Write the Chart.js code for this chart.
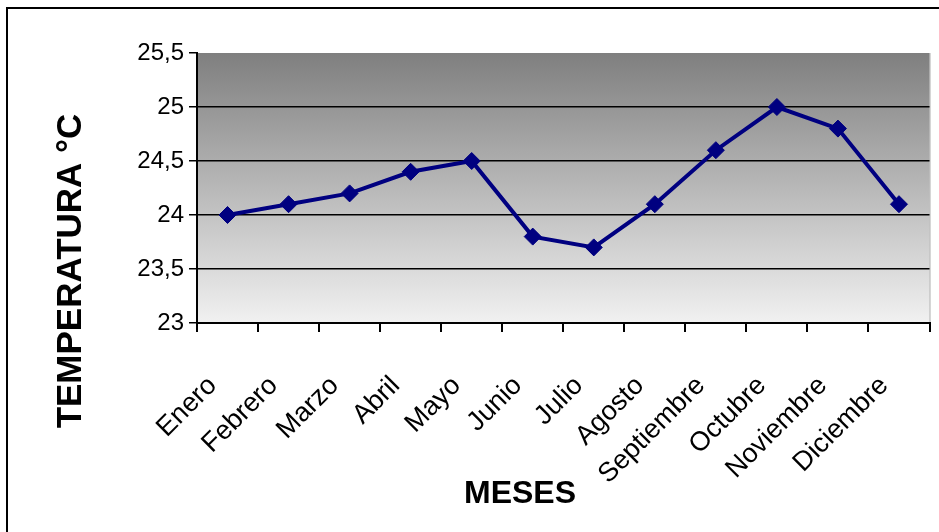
<!DOCTYPE html>
<html>
<head>
<meta charset="utf-8">
<script src="https://cdn.jsdelivr.net/npm/chart.js@4"></script>
<style>
  html, body { margin: 0; padding: 0; background: #fff; }
  #wrap { width: 939px; height: 532px; position: relative; }
</style>
</head>
<body>
<div id="wrap"><canvas id="c" width="939" height="532"></canvas></div>
<script>
const categories = ['Enero', 'Febrero', 'Marzo', 'Abril', 'Mayo', 'Junio', 'Julio', 'Agosto', 'Septiembre', 'Octubre', 'Noviembre', 'Diciembre'];
const temperatures = [24.0, 24.1, 24.2, 24.4, 24.5, 23.8, 23.7, 24.1, 24.6, 25.0, 24.8, 24.1];
const yTickValues = [23, 23.5, 24, 24.5, 25, 25.5];
const yAxisTitle = 'TEMPERATURA °C';
const xAxisTitle = 'MESES';

const FONT = '"Liberation Sans", Arial, sans-serif';

const decorPlugin = {
  id: 'decor',
  beforeDraw(chart) {
    const { ctx, chartArea: a } = chart;
    ctx.save();
    const g = ctx.createLinearGradient(0, a.top, 0, a.bottom);
    g.addColorStop(0, '#7f7f7f');
    g.addColorStop(1, '#f1f1f1');
    ctx.fillStyle = g;
    ctx.fillRect(a.left, a.top, a.right - a.left, a.bottom - a.top);
    ctx.fillStyle = 'rgba(120,120,120,0.6)';
    ctx.fillRect(a.right, a.top, 1, a.bottom - a.top);
    ctx.restore();
  },
  afterDraw(chart) {
    const { ctx } = chart;
    ctx.save();
    ctx.strokeStyle = '#000';
    ctx.lineWidth = 2;
    ctx.strokeRect(7, 8, 2000, 2000);
    ctx.fillStyle = '#000';
    ctx.textAlign = 'center';
    ctx.textBaseline = 'middle';
    ctx.font = 'bold 32px ' + FONT;
    ctx.fillText(xAxisTitle, 520, 494);
    ctx.translate(71, 271);
    ctx.rotate(-Math.PI / 2);
    ctx.font = 'bold 35px ' + FONT;
    ctx.fillText(yAxisTitle, 0, 0);
    ctx.restore();
  }
};

new Chart(document.getElementById('c'), {
  type: 'line',
  data: {
    labels: categories,
    datasets: [{
      data: temperatures,
      borderColor: '#000080',
      backgroundColor: '#000080',
      borderWidth: 4,
      pointStyle: 'rectRot',
      pointRadius: 8.5,
      pointHoverRadius: 8.5,
      pointBorderWidth: 1,
      tension: 0,
      fill: false
    }]
  },
  options: {
    responsive: false,
    animation: false,
    events: [],
    layout: { padding: { left: 0, top: 53, right: 9, bottom: 0 } },
    plugins: { legend: { display: false }, tooltip: { enabled: false } },
    scales: {
      x: {
        offset: true,
        grid: {
          offset: true,
          drawOnChartArea: false,
          color: '#000',
          tickColor: '#000',
          tickLength: 9,
          lineWidth: 2
        },
        border: { color: '#000', width: 2 },
        ticks: {
          color: '#000',
          font: { family: FONT, size: 27 },
          minRotation: 45,
          maxRotation: 45,
          autoSkip: false,
          padding: 38,
          labelOffset: -15
        },
        afterFit(scale) {
          scale.height = 532 - 323;
          scale.paddingLeft = 0;
          scale.paddingRight = 0;
        }
      },
      y: {
        min: 23,
        max: 25.5,
        afterBuildTicks(scale) { scale.ticks = yTickValues.map(v => ({ value: v })); },
        grid: {
          color: ctx => (ctx.tick && ctx.tick.value === 25.5) ? 'rgba(0,0,0,0)' : '#000',
          tickColor: '#000',
          tickLength: 8,
          lineWidth: 1.5
        },
        border: { color: '#000', width: 2 },
        ticks: {
          color: '#000',
          font: { family: FONT, size: 24 },
          padding: 5,
          callback: v => String(v).replace('.', ',')
        },
        afterFit(scale) { scale.width = 197; }
      }
    }
  },
  plugins: [decorPlugin]
});
</script>
</body>
</html>
